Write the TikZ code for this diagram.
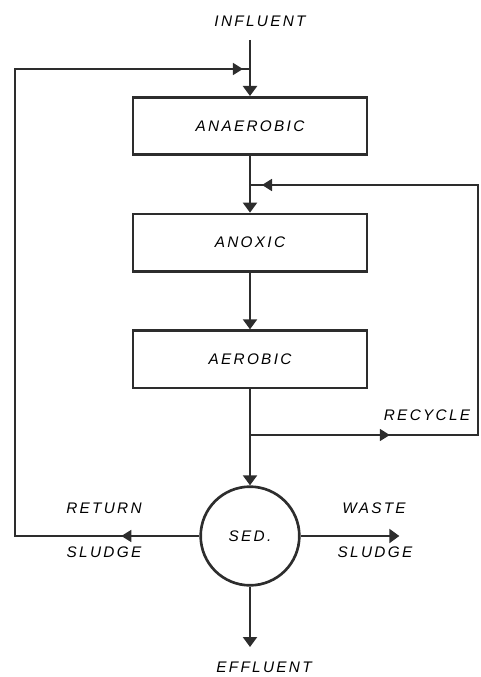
\documentclass[tikz,border=0pt]{standalone}
\usepackage{fontspec}
\usepackage{xcolor}
\usepackage{tikz}
\usetikzlibrary{positioning,arrows.meta,decorations.markings}
\newfontfamily\handfont[LetterSpace=15]{Liberation Sans}
\newcommand{\handtext}{\handfont\itshape\fontsize{11.5}{13}\selectfont}
\definecolor{inkgray}{RGB}{45,45,45}

\begin{document}
\begin{tikzpicture}[x=0.75pt,y=-0.75pt,node distance=42.5pt,
    box/.style={rectangle,draw=inkgray,line width=2pt,minimum width=175.5pt,minimum height=43pt,align=center,font=\handtext},
    tank/.style={circle,draw=inkgray,line width=2pt,minimum size=74pt,font=\handtext},
    lettering/.style={inner sep=1pt,font=\handtext},
    flow/.style={-{Triangle[length=7.5pt,width=10.5pt]},color=inkgray,line width=1.6pt},
    pipe/.style={color=inkgray,line width=1.3pt},
    twotips/.style 2 args={postaction={decorate},decoration={markings,
        mark=at position #1 with {\arrow{Triangle[length=7.5pt,width=9pt]}},
        mark=at position #2 with {\arrow{Triangle[length=7.5pt,width=9pt]}}}}]
    \useasboundingbox (0,0) rectangle (480,677);

    % process train
    \node[box] (anaerobic) at (250,126) {ANAEROBIC};
    \node[box,below=of anaerobic] (anoxic) {ANOXIC};
    \node[box,below=of anoxic] (aerobic) {AEROBIC};
    \node[tank,below=72pt of aerobic] (sed) {SED.};

    % texts
    \node[lettering] (influent) at (260,21) {INFLUENT};
    \node[lettering] (effluent) at (264,667) {EFFLUENT};
    \node[lettering] (recycle) at (427,415) {RECYCLE};
    \node[lettering] (returntop) at (104,508) {RETURN};
    \node[lettering] (returnbot) at (104,552) {SLUDGE};
    \node[lettering] (wastetop) at (374,508) {WASTE};
    \node[lettering] (wastebot) at (375,552) {SLUDGE};

    % junctions and corners
    \coordinate (infeed) at (250,40);
    \coordinate (retjoin) at (250,69);
    \coordinate (recjoin) at (250,185);
    \coordinate (recsplit) at (250,435);
    \coordinate (effout) at (250,647);
    \coordinate[right=74pt of sed.east] (wasteout);
    \coordinate (rethigh) at (15,69);
    \coordinate (retlow) at (sed.west -| rethigh);
    \coordinate (reclow) at (478,435);
    \coordinate (rechigh) at (478,185);

    \draw[flow] (infeed) -- (anaerobic.north);
    \draw[flow] (anaerobic.south) -- (anoxic.north);
    \draw[flow] (anoxic.south) -- (aerobic.north);
    \draw[flow] (aerobic.south) -- (sed.north);
    \draw[flow] (sed.south) -- (effout);
    \draw[flow] (sed.east) -- (wasteout);

    \draw[pipe,twotips={0.088}{0.992}] (sed.west) -- (retlow) -- (rethigh) -- (retjoin);
    \draw[pipe,twotips={0.198}{0.983}] (recsplit) -- (reclow) -- (rechigh) -- (recjoin);

\end{tikzpicture}
\end{document}
